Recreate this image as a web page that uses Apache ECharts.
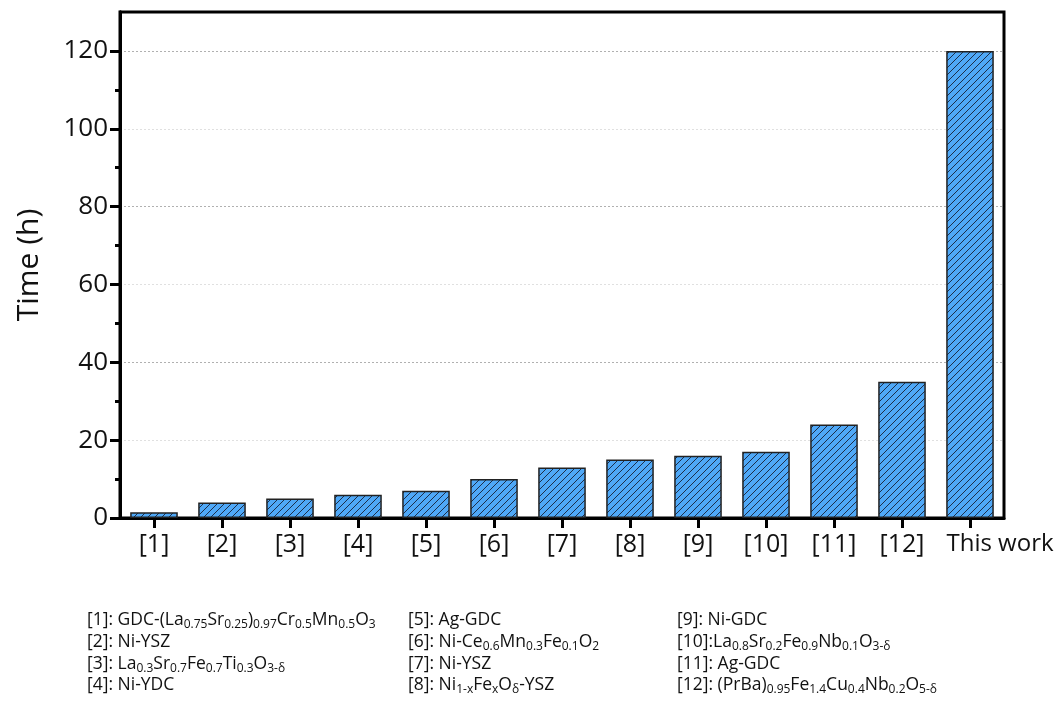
<!DOCTYPE html>
<html>
<head>
<meta charset="utf-8">
<style>
  html, body { margin: 0; padding: 0; background: #fff; }
  #chart { width: 1062px; height: 711px; }
</style>
<script src="https://cdn.jsdelivr.net/npm/echarts@6/dist/echarts.min.js"></script>
</head>
<body>
<div id="chart"></div>
<script>
// Stability test duration for each cell / electrode
const categories = ['[1]', '[2]', '[3]', '[4]', '[5]', '[6]', '[7]', '[8]', '[9]', '[10]', '[11]', '[12]', 'This work'];
const timeHours = [1.5, 4, 5, 6, 7, 10, 13, 15, 16, 17, 24, 35, 120];

// Y axis tick values
const yMajorTicks = [0, 20, 40, 60, 80, 100, 120];
const yMinorTicks = [10, 30, 50, 70, 90, 110];

// Reference notes, three columns ({s|...} marks a subscript)
const notesCol1 = [
  '[1]: GDC-(La{s|0.75}Sr{s|0.25}){s|0.97}Cr{s|0.5}Mn{s|0.5}O{s|3}',
  '[2]: Ni-YSZ',
  '[3]: La{s|0.3}Sr{s|0.7}Fe{s|0.7}Ti{s|0.3}O{s|3-δ}',
  '[4]: Ni-YDC'
];
const notesCol2 = [
  '[5]: Ag-GDC',
  '[6]: Ni-Ce{s|0.6}Mn{s|0.3}Fe{s|0.1}O{s|2}',
  '[7]: Ni-YSZ',
  '[8]: Ni{s|1-x}Fe{s|x}O{s|δ}-YSZ'
];
const notesCol3 = [
  '[9]: Ni-GDC',
  '[10]:La{s|0.8}Sr{s|0.2}Fe{s|0.9}Nb{s|0.1}O{s|3-δ}',
  '[11]: Ag-GDC',
  '[12]: (PrBa){s|0.95}Fe{s|1.4}Cu{s|0.4}Nb{s|0.2}O{s|5-δ}'
];

const FONT = '"Open Sans", "Liberation Sans", sans-serif';

// Diagonal hatch fill for the bars
function makeHatch() {
  const size = 7;
  const c = document.createElement('canvas');
  c.width = size; c.height = size;
  const g = c.getContext('2d');
  g.fillStyle = '#4FA8F7';
  g.fillRect(0, 0, size, size);
  g.strokeStyle = '#1d2f4a';
  g.lineWidth = 1;
  g.beginPath();
  g.moveTo(-1, size + 1); g.lineTo(size + 1, -1);
  g.moveTo(-1, 1); g.lineTo(1, -1);
  g.moveTo(size - 1, size + 1); g.lineTo(size + 1, size - 1);
  g.stroke();
  return c;
}

function noteTexts(lines, x) {
  const rowY = [620, 642, 664, 685];
  return lines.map((t, i) => ({
    type: 'text',
    left: x,
    top: rowY[i] - 11,
    style: {
      text: t,
      font: '17.5px ' + FONT,
      fill: '#111',
      lineHeight: 22,
      rich: {
        s: { fontSize: 12, lineHeight: 12, verticalAlign: 'bottom', fontFamily: FONT, fill: '#111' }
      }
    }
  }));
}

// The last category label sits a little to the right of its tick
const categoryData = categories.map((c, i) =>
  i === categories.length - 1
    ? { value: c, textStyle: { fontSize: 24, padding: [0, 0, 0, 60] } }
    : c
);

const chart = echarts.init(document.getElementById('chart'), null, { renderer: 'canvas' });

const axisLineStyle = { color: '#000', width: 3 };

chart.setOption({
  backgroundColor: '#fff',
  animation: false,
  grid: {
    left: 120, right: 58, top: 12, bottom: 193,
    show: true, borderColor: '#000', borderWidth: 3, backgroundColor: 'transparent'
  },
  xAxis: {
    type: 'category',
    data: categoryData,
    axisLine: { lineStyle: axisLineStyle },
    axisTick: { show: true, alignWithLabel: true, interval: 0, length: 10, lineStyle: { color: '#000', width: 3 } },
    axisLabel: { color: '#111', fontSize: 25, fontFamily: FONT, margin: 14, interval: 0, hideOverlap: false },
    splitLine: { show: false }
  },
  yAxis: [
    {
      type: 'value',
      min: 0, max: 130, interval: 10,
      axisLine: { show: true, lineStyle: axisLineStyle },
      axisTick: { show: true, length: 10, customValues: yMajorTicks, lineStyle: { color: '#000', width: 3 } },
      axisLabel: { color: '#111', fontSize: 26, fontFamily: FONT, margin: 12, customValues: yMajorTicks },
      splitLine: { show: true, lineStyle: { color: ['#b0b0b0', '#e0e0e0'], type: [2, 2], width: 1 } }
    },
    {
      type: 'value',
      min: 0, max: 130, interval: 10,
      position: 'left',
      axisLine: { show: true, lineStyle: axisLineStyle },
      axisTick: { show: true, length: 5, customValues: yMinorTicks, lineStyle: { color: '#000', width: 3 } },
      axisLabel: { show: false },
      splitLine: { show: false }
    }
  ],
  series: [{
    type: 'bar',
    yAxisIndex: 0,
    data: timeHours,
    barWidth: '70%',
    itemStyle: {
      color: { image: makeHatch(), repeat: 'repeat' },
      borderColor: '#222',
      borderWidth: 1.5
    }
  }],
  graphic: [
    {
      type: 'text',
      x: 29, y: 265,
      rotation: Math.PI / 2,
      style: { text: 'Time (h)', font: '30px ' + FONT, fill: '#111', align: 'center', verticalAlign: 'middle' }
    },
    ...noteTexts(notesCol1, 87),
    ...noteTexts(notesCol2, 408),
    ...noteTexts(notesCol3, 677)
  ]
});
</script>
</body>
</html>
